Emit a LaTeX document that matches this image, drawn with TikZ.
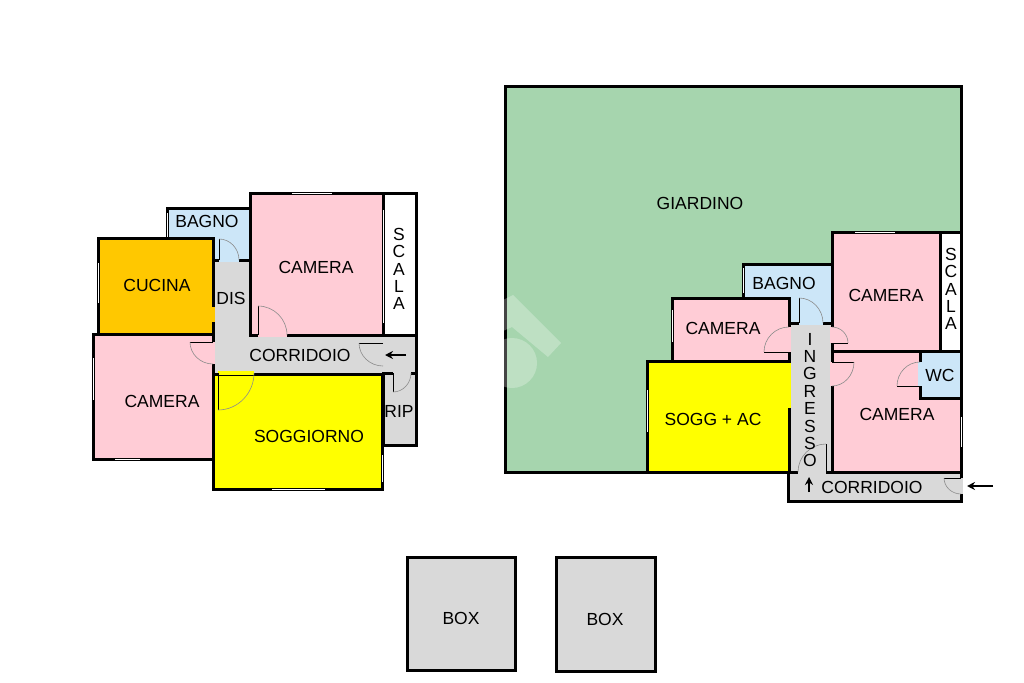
\documentclass[tikz,border=0pt]{standalone}
\usepackage{fontspec}
\setmainfont{Liberation Sans}
\usetikzlibrary{calc,arrows.meta}
\definecolor{pinkroom}{HTML}{FFCCD6}
\definecolor{blueroom}{HTML}{CCE6F8}
\definecolor{greenroom}{HTML}{A6D5AE}
\definecolor{orangeroom}{HTML}{FFC800}
\definecolor{yellowroom}{HTML}{FFFF00}
\definecolor{grayroom}{HTML}{D9D9D9}
\tikzset{
room/.style={draw=black,line width=3pt,line join=miter},
gap/.style={line width=3.8pt},
leaf/.style={draw=black,line width=1pt},
swing/.style={draw=black!45,line width=.6pt},
glass/.style={draw=white,line width=1pt},
entry/.style={draw=black,line width=1.5pt,-{Stealth[length=8pt,width=8pt]}},
label/.style={text=black,inner sep=0pt,font=\fontsize{17.5}{19}\selectfont},
vlabel/.style={text=black,inner sep=0pt,align=center,font=\fontsize{17.5}{17.4}\selectfont}
}
\begin{document}
\begin{tikzpicture}[x=1pt,y=-1pt]
\useasboundingbox (0,0) rectangle (1024,682);
\fill[white] (0,0) rectangle (1024,682);
\fill[grayroom] (213,260) rectangle (250,373);
\fill[grayroom] (213,335) rectangle (416,373);
\foreach \xa/\ya/\xb/\yb/\c in {
383/193/416/335/white,
167/208/250/260/blueroom,
98/238/213/334/orangeroom,
250/193/383/335/pinkroom,
93/334/213/459/pinkroom,
383/373/416/445/grayroom,
213/374/382/489/yellowroom,
505/87/961/472/greenroom,
743/264/832/323/blueroom,
789/323/832/472/grayroom,
788/472/961/501/grayroom,
672/298/789/361/pinkroom,
647/361/789/472/yellowroom,
832/232/940/351/pinkroom,
940/232/961/351/white,
832/351/961/472/pinkroom,
920/351/961/398/blueroom,
407/557/515/670/grayroom,
556/557/655/671/grayroom}
\draw[room,fill=\c] (\xa,\ya) rectangle (\xb,\yb);
\draw[room] (416,335) -- (416,373);
\draw[gap,orangeroom] (213,307) -- (213,322);
\draw[gap,yellowroom] (789,363) -- (789,408);
\foreach \hx/\hy/\lx/\ly/\sx/\sy/\c in {
219/260/219/239/239/260/blueroom,
258/335/258/306/287/335/pinkroom,
213/342/190/342/213/364/pinkroom,
218/373/218/410/254/373/yellowroom,
383/343/359/343/383/366/grayroom,
393/373/393/392/411/373/grayroom,
799/323/799/298/823/323/blueroom,
789/352/764/352/789/327/pinkroom,
832/343/848/343/832/327/pinkroom,
832/362/854/362/832/386/pinkroom,
920/386/897/386/920/362/blueroom,
826/472/826/444/798/472/grayroom,
961/478/944/478/961/494/grayroom}
{
\draw[gap,\c] (\hx,\hy) -- (\sx,\sy);
\draw[leaf] (\hx,\hy) -- (\lx,\ly);
\draw[swing] (\lx,\ly) .. controls ($(\lx,\ly)+.55*(\sx,\sy)-.55*(\hx,\hy)$) and ($(\sx,\sy)+.55*(\lx,\ly)-.55*(\hx,\hy)$) .. (\sx,\sy);
}
\foreach \xa/\ya/\xb/\yb in {
292/193/332/193,383/210/383/323,93/358/93/400,115/459/140/459,98/263/98/303,167/213/167/237,272/489/325/489,382/455/382/482,
855/232/895/232,672/310/672/342,743/268/743/293,647/390/647/432,961/417/961/447}
\draw[glass] (\xa,\ya) -- (\xb,\yb);
\begin{scope}
\clip (503,280) rectangle (600,400);
\fill[white,opacity=.27] (503,300) -- (513,295) -- (561,343) -- (548,357) -- (512,327) -- (503,331) -- cycle;
\fill[white,opacity=.27] (512,363) circle (25);
\end{scope}
\coordinate (in1a) at (406,355);
\coordinate (in1b) at (385,355);
\coordinate (in2a) at (809,492);
\coordinate (in2b) at (809,477);
\coordinate (in3a) at (993,486);
\coordinate (in3b) at (967,486);
\draw[entry] (in1a) -- (in1b);
\draw[entry] (in2a) -- (in2b);
\draw[entry] (in3a) -- (in3b);
\node[label] (bagno1) at (207,221) {BAGNO};
\node[label] (camera1) at (316,267) {CAMERA};
\node[label] (cucina) at (157,285) {CUCINA};
\node[label] (dis) at (231,298) {DIS};
\node[label] (corridoio1) at (300,355) {CORRIDOIO};
\node[label] (camera2) at (162,401) {CAMERA};
\node[label] (soggiorno) at (309,436) {SOGGIORNO};
\node[label] (rip) at (399,411) {RIP};
\node[vlabel] (scala1) at (399,269) {S\\C\\A\\L\\A};
\node[label] (giardino) at (700,203) {GIARDINO};
\node[label] (bagno2) at (784,283) {BAGNO};
\node[label] (camera3) at (886,295) {CAMERA};
\node[vlabel] (scala2) at (951,289) {S\\C\\A\\L\\A};
\node[label] (camera4) at (723,328) {CAMERA};
\node[label] (sogg) at (713,419) {SOGG + AC};
\node[vlabel] (ingresso) at (810,400) {I\\N\\G\\R\\E\\S\\S\\O};
\node[label] (wc) at (940,375) {WC};
\node[label] (camera5) at (897,414) {CAMERA};
\node[label] (corridoio2) at (872,487) {CORRIDOIO};
\node[label] (box1) at (461,618) {BOX};
\node[label] (box2) at (605,619) {BOX};
\end{tikzpicture}
\end{document}
